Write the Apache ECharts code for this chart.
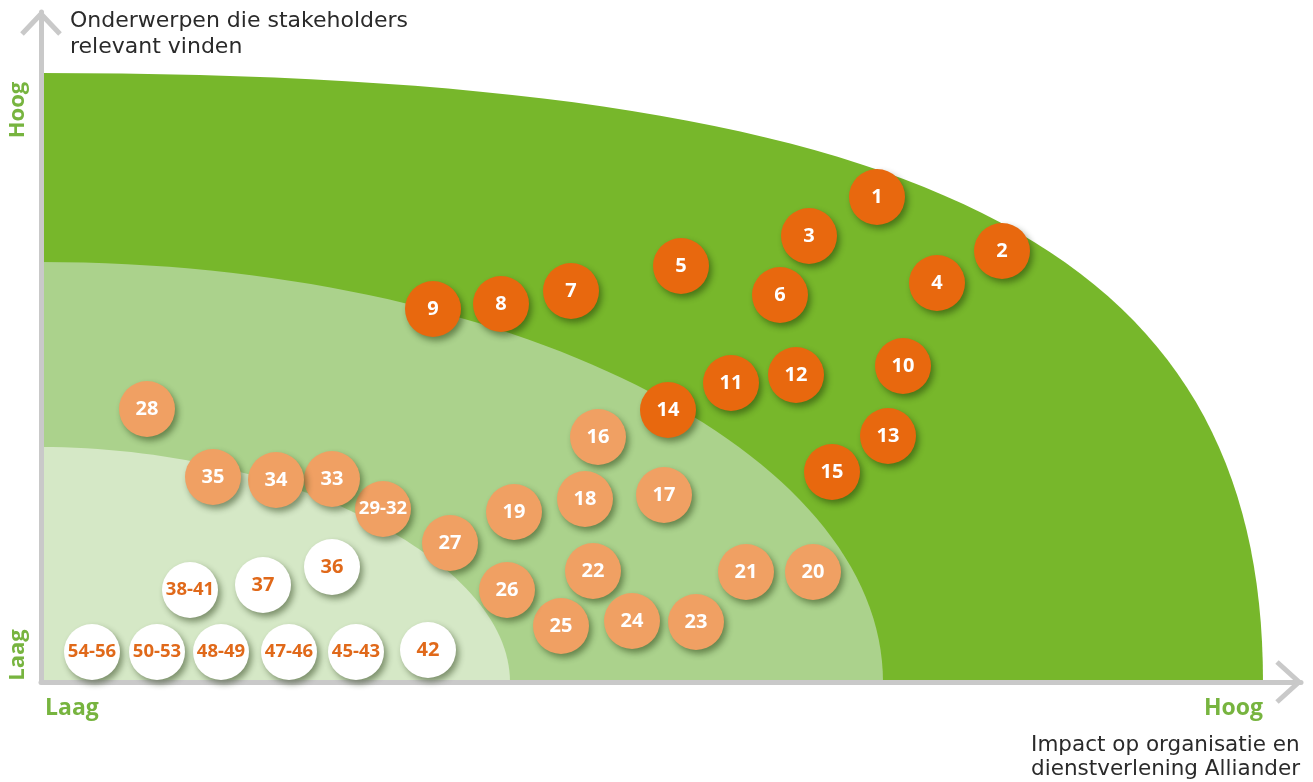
<!DOCTYPE html>
<html>
<head>
<meta charset="utf-8">
<title>Materialiteitsmatrix</title>
<script src="https://cdn.jsdelivr.net/npm/echarts@6/dist/echarts.min.js"></script>
<style>
  html, body { margin: 0; padding: 0; background: #ffffff; }
  #chart { width: 1313px; height: 782px; }
</style>
</head>
<body>
<div id="chart"></div>
<script>
// Zones (quarter shapes anchored at the origin): extent on x, extent on y, curve fullness
const zoneRx = [122.2, 84.2, 46.9];
const zoneRy = [60.9, 42.0, 23.5];
const zoneBulge = [0.72, 0.552, 0.52];
const zoneColors = ['#77B72B', '#ABD28C', '#D5E8C6'];

// Topics with high relevance and impact
const highLabels = ['1', '2', '3', '4', '5', '6', '7', '8', '9', '10', '11', '12', '13', '14', '15'];
const highX = [83.6, 96.1, 76.8, 89.6, 64.0, 73.9, 53.0, 46.0, 39.2, 86.2, 69.0, 75.5, 84.7, 62.7, 79.1];
const highY = [48.5, 43.1, 44.6, 39.9, 41.6, 38.7, 39.1, 37.8, 37.3, 31.6, 29.9, 30.7, 24.6, 27.2, 21.0];

// Topics with medium relevance and impact
const midLabels = ['16', '17', '18', '19', '20', '21', '22', '23', '24', '25', '26', '27', '28', '29-32', '33', '34', '35'];
const midX = [55.7, 62.3, 54.4, 47.3, 77.2, 70.5, 55.2, 65.5, 59.1, 52.0, 46.6, 40.9, 10.6, 34.2, 29.1, 23.5, 17.2];
const midY = [24.5, 18.7, 18.3, 17.0, 11.0, 11.0, 11.1, 6.0, 6.1, 5.6, 9.2, 13.9, 27.3, 17.3, 20.3, 20.2, 20.5];

// Topics with low relevance and impact
const lowLabels = ['36', '37', '38-41', '42', '45-43', '47-46', '48-49', '50-53', '54-56'];
const lowX = [29.1, 22.2, 14.9, 38.7, 31.5, 24.8, 18.0, 11.6, 5.1];
const lowY = [11.5, 9.7, 9.2, 3.2, 3.0, 3.0, 3.0, 3.0, 3.0];

const X_MAX = 126;
const Y_MAX = 67;

const GRID = { left: 41, top: 12, right: 12, bottom: 100 };
const W = 1313, H = 782;
const axisColor = '#C9C9C9';
const green = '#77B43F';

function points(labels, xs, ys) {
  return labels.map((l, i) => ({
    value: [xs[i], ys[i]],
    name: l,
    // grouped topic numbers need a slightly smaller type to fit the bubble
    label: { fontSize: l.indexOf('-') >= 0 ? 18.5 : 20 }
  }));
}

const zoneData = zoneRx.map((rx, i) => [rx, zoneRy[i], zoneBulge[i]]);

function renderZone(params, api) {
  const rx = api.value(0), ry = api.value(1), k = api.value(2);
  const o = api.coord([0, 0]);
  const t = api.coord([0, ry]);
  const r = api.coord([rx, 0]);
  const w = r[0] - o[0], h = o[1] - t[1];
  const d = 'M' + o[0] + ' ' + o[1] +
    ' L' + t[0] + ' ' + t[1] +
    ' C' + (t[0] + k * w) + ' ' + t[1] + ' ' + r[0] + ' ' + (r[1] - k * h) + ' ' + r[0] + ' ' + r[1] + ' Z';
  return { type: 'path', shape: { pathData: d }, style: { fill: zoneColors[params.dataIndex] } };
}

const bubbleShadow = {
  shadowBlur: 6,
  shadowOffsetX: 3,
  shadowOffsetY: 4,
  shadowColor: 'rgba(20,40,0,0.45)'
};

function bubbleSeries(name, data, fill, textColor) {
  return {
    name: name,
    type: 'scatter',
    z: 6,
    symbol: 'circle',
    symbolSize: 56,
    data: data,
    itemStyle: Object.assign({ color: fill, opacity: 1 }, bubbleShadow),
    label: {
      show: true,
      position: 'inside',
      formatter: p => p.name,
      color: textColor,
      fontFamily: 'Open Sans',
      fontWeight: 'bold',
      fontSize: 20
    },
    emphasis: { disabled: true }
  };
}

const chart = echarts.init(document.getElementById('chart'));

const axisTipX = W - GRID.right;
const axisY = H - GRID.bottom;
const axisX = GRID.left;
const axisTipY = GRID.top;

chart.setOption({
  animation: false,
  backgroundColor: '#ffffff',
  grid: GRID,
  xAxis: {
    type: 'value', min: 0, max: X_MAX, z: 5,
    axisLine: { show: true, lineStyle: { color: axisColor, width: 5 } },
    axisTick: { show: false }, axisLabel: { show: false }, splitLine: { show: false }
  },
  yAxis: {
    type: 'value', min: 0, max: Y_MAX, z: 5,
    axisLine: { show: true, onZero: false, lineStyle: { color: axisColor, width: 5 } },
    axisTick: { show: false }, axisLabel: { show: false }, splitLine: { show: false }
  },
  series: [
    {
      type: 'custom',
      z: 1,
      renderItem: renderZone,
      data: zoneData,
      silent: true
    },
    bubbleSeries('hoog', points(highLabels, highX, highY), '#E8680E', '#ffffff'),
    bubbleSeries('middel', points(midLabels, midX, midY), '#F0A063', '#ffffff'),
    bubbleSeries('laag', points(lowLabels, lowX, lowY), '#ffffff', '#E0691A')
  ],
  graphic: [
    // arrow heads
    {
      type: 'polyline', z: 10,
      shape: { points: [[axisX - 19, axisTipY + 22], [axisX, axisTipY + 2], [axisX + 19, axisTipY + 22]] },
      style: { stroke: axisColor, lineWidth: 5, fill: null }
    },
    {
      type: 'polyline', z: 10,
      shape: { points: [[axisTipX - 24, axisY - 20], [axisTipX - 2, axisY], [axisTipX - 24, axisY + 20]] },
      style: { stroke: axisColor, lineWidth: 5, fill: null }
    },
    // axis titles
    {
      type: 'text', left: 70, top: 8,
      style: {
        text: 'Onderwerpen die stakeholders\nrelevant vinden',
        fill: '#2a2a2a', font: '22px "DejaVu Sans"', lineHeight: 26
      }
    },
    {
      type: 'text', right: 13, top: 733,
      style: {
        text: 'Impact op organisatie en\ndienstverlening Alliander',
        fill: '#2a2a2a', font: '21.5px "DejaVu Sans"', lineHeight: 24, align: 'right'
      }
    },
    // scale ends
    {
      type: 'text', x: 45, y: 708,
      style: { text: 'Laag', fill: green, font: 'bold 23px "Open Sans"', verticalAlign: 'middle' }
    },
    {
      type: 'text', x: 1263, y: 708,
      style: { text: 'Hoog', fill: green, font: 'bold 23px "Open Sans"', verticalAlign: 'middle', align: 'right' }
    },
    {
      type: 'text', x: 18, y: 110, rotation: Math.PI / 2,
      style: { text: 'Hoog', fill: green, font: 'bold 22px "Open Sans"', verticalAlign: 'middle', align: 'center' }
    },
    {
      type: 'text', x: 18, y: 655, rotation: Math.PI / 2,
      style: { text: 'Laag', fill: green, font: 'bold 22px "Open Sans"', verticalAlign: 'middle', align: 'center' }
    }
  ]
});
</script>
</body>
</html>
